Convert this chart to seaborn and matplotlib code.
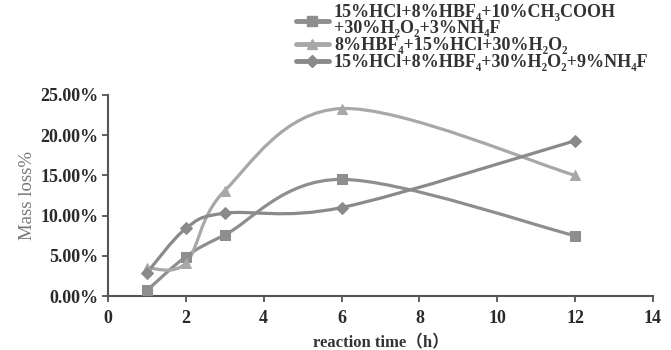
import numpy as np
import pandas as pd
import matplotlib
matplotlib.use("Agg")
import matplotlib.pyplot as plt
from matplotlib.path import Path
from matplotlib.patches import PathPatch
from matplotlib.ticker import FuncFormatter
from matplotlib.lines import Line2D
import seaborn as sns

time_h = [1, 2, 3, 6, 12]
s1_label = "15%HCl+8%HBF₄+10%CH₃COOH\n+30%H₂O₂+3%NH₄F"
s2_label = "8%HBF₄+15%HCl+30%H₂O₂"
s3_label = "15%HCl+8%HBF₄+30%H₂O₂+9%NH₄F"
s1_values = [0.7, 4.9, 7.6, 14.5, 7.5]
s2_values = [3.5, 4.1, 13.1, 23.3, 15.0]
s3_values = [2.9, 8.4, 10.3, 11.0, 19.3]
x_ticks = [0, 2, 4, 6, 8, 10, 12, 14]
y_ticks = [0, 5, 10, 15, 20, 25]

sns.set_style("white")
plt.rcParams['font.family'] = ['Liberation Serif', 'DejaVu Serif']

fig = plt.figure(figsize=(6.71, 3.5), dpi=100)
ax = fig.add_axes([0.161, 0.154, 0.812, 0.575])

series = [
    (s1_label, s1_values, "s", "#8e8e8e", 7),
    (s2_label, s2_values, "^", "#a8a8a8", 7),
    (s3_label, s3_values, "D", "#8a8a8a", 6),
]

rows = []
for lab, vals, *_ in series:
    for t, v in zip(time_h, vals):
        rows.append({"time": t, "loss": v, "series": lab})
df = pd.DataFrame(rows)

def smooth_path(xs, ys):
    pts = np.column_stack([xs, ys]).astype(float)
    n = len(pts)
    verts = [pts[0]]
    codes = [Path.MOVETO]
    for i in range(n - 1):
        p0 = pts[i - 1] if i > 0 else pts[i]
        p1 = pts[i]
        p2 = pts[i + 1]
        p3 = pts[i + 2] if i + 2 < n else pts[i + 1]
        c1 = p1 + (p2 - p0) / 6.0
        c2 = p2 - (p3 - p1) / 6.0
        verts += [c1, c2, p2]
        codes += [Path.CURVE4] * 3
    return Path(verts, codes)

for lab, vals, mk, col, ms in series:
    ax.add_patch(PathPatch(smooth_path(time_h, vals), fill=False,
                           edgecolor=col, lw=2.3, zorder=2))
    sub = df[df["series"] == lab]
    sns.lineplot(data=sub, x="time", y="loss", ax=ax, marker=mk, color=col,
                 markersize=ms, markeredgecolor=col, linewidth=0, label=lab,
                 zorder=3, legend=False)

ax.set_xlim(0, 14)
ax.set_ylim(0, 25)
ax.set_xticks(x_ticks)
ax.set_yticks(y_ticks)
ax.yaxis.set_major_formatter(FuncFormatter(lambda v, p: f"{v:.2f}%"))
for lbl in ax.get_xticklabels() + ax.get_yticklabels():
    lbl.set_fontweight("bold")
    lbl.set_fontsize(13)
    lbl.set_color("#2a2a2a")

for side in ["top", "right"]:
    ax.spines[side].set_visible(False)
for side in ["left", "bottom"]:
    ax.spines[side].set_color("#555555")
    ax.spines[side].set_linewidth(1.5)
ax.tick_params(axis="y", direction="out", length=4, width=1.3,
               color="#555555", left=True, pad=3)
ax.tick_params(axis="x", direction="out", length=4, width=1.3,
               color="#555555", bottom=True, pad=6)

ax.set_xlabel("reaction time（h）", fontsize=12, fontweight="bold",
              color="#333333", family=['Liberation Serif', 'Noto Sans CJK SC'],
              labelpad=6)
ax.set_ylabel("Mass loss%", fontsize=13.5, color="#777777", labelpad=3)

handles = [Line2D([0], [0], color=col, marker=mk, markersize=ms, lw=3.5)
           for lab, vals, mk, col, ms in series]
leg = fig.legend(handles, [s[0] for s in series], loc="upper left",
                 bbox_to_anchor=(0.425, 1.02), frameon=False,
                 prop={"weight": "bold", "size": 13}, handlelength=1.8,
                 handletextpad=0.3, labelspacing=0.0, borderaxespad=0.2)
for t in leg.get_texts():
    t.set_color("#333333")
    t.set_linespacing(0.95)

fig.savefig("out.png", dpi=100)
